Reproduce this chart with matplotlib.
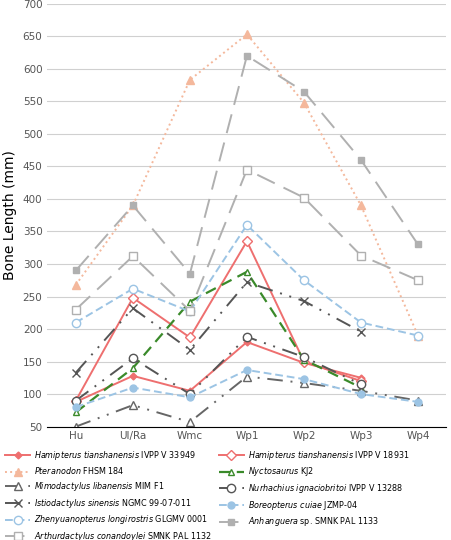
import matplotlib
matplotlib.use("Agg")
import matplotlib.pyplot as plt
import numpy as np

cats = ["Hu", "Ul/Ra", "Wmc", "Wp1", "Wp2", "Wp3", "Wp4"]
ham33949 = [88, 128, 105, 180, 148, 125, None]
ham18931 = [90, 248, 187, 335, 150, 120, None]
pteranodon = [268, 390, 583, 653, 548, 390, 190]
nyctosaurus = [72, 140, 242, 288, 153, 110, None]
mimodactylus = [50, 83, 57, 127, 117, 105, 90]
nurhachius = [90, 155, 100, 188, 157, 115, None]
istiodactylus = [133, 232, 168, 272, 243, 196, None]
boreopterus = [80, 110, 95, 137, 123, 100, 88]
zhenyuan = [210, 262, 227, 360, 275, 210, 190]
anhanguera = [290, 390, 285, 620, 565, 460, 330]
arthurdactylus = [230, 312, 228, 445, 402, 313, 275]

def arr(v):
    return np.array([np.nan if x is None else x for x in v], dtype=float)

fig = plt.figure(figsize=(4.51, 5.40), dpi=100)
ax = fig.add_axes([0.105, 0.21, 0.885, 0.783])
x = np.arange(len(cats))
red = "#ee6f6f"
specs = [
    (ham33949, dict(color=red, ls="-", marker="D", ms=3.5, mfc=red), "$\\it{Hamipterus\\ tianshanensis}$ IVPP V 33949"),
    (ham18931, dict(color=red, ls="-", marker="D", ms=5, mfc="white"), "$\\it{Hamipterus\\ tianshanensis}$ IVPP V 18931"),
    (pteranodon, dict(color="#f4b89c", ls=":", marker="^", ms=6, mfc="#f4b89c"), "$\\it{Pteranodon}$ FHSM 184"),
    (nyctosaurus, dict(color="#3a8a2a", ls=(0, (5, 3)), marker="^", ms=5, mfc="white", lw=1.6), "$\\it{Nyctosaurus}$ KJ2"),
    (mimodactylus, dict(color="#666666", ls=(0, (8, 4, 1, 4, 1, 4)), marker="^", ms=6, mfc="white"), "$\\it{Mimodactylus\\ libanensis}$ MIM F1"),
    (nurhachius, dict(color="#555555", ls=(0, (8, 4, 1, 4, 1, 4)), marker="o", ms=6, mfc="white"), "$\\it{Nurhachius\\ ignaciobritoi}$ IVPP V 13288"),
    (istiodactylus, dict(color="#555555", ls=(0, (8, 4, 1, 4, 1, 4)), marker="x", ms=6), "$\\it{Istiodactylus\\ sinensis}$ NGMC 99-07-011"),
    (boreopterus, dict(color="#9cc4e4", ls=(0, (4, 2)), marker="o", ms=5, mfc="#9cc4e4"), "$\\it{Boreopterus\\ cuiae}$ JZMP-04"),
    (zhenyuan, dict(color="#9cc4e4", ls=(0, (4, 2)), marker="o", ms=6, mfc="white"), "$\\it{Zhenyuanopterus\\ longirostris}$ GLGMV 0001"),
    (anhanguera, dict(color="#b0b0b0", ls=(0, (10, 5)), marker="s", ms=5, mfc="#b0b0b0"), "$\\it{Anhanguera}$ sp. SMNK PAL 1133"),
    (arthurdactylus, dict(color="#b0b0b0", ls=(0, (10, 5)), marker="s", ms=6, mfc="white"), "$\\it{Arthurdactylus\\ conandoylei}$ SMNK PAL 1132"),
]
handles = []
for vals, st, lab in specs:
    st.setdefault("lw", 1.4)
    h, = ax.plot(x, arr(vals), label=lab, **st)
    handles.append(h)

ax.set_ylim(50, 700)
ax.set_yticks(range(50, 701, 50))
ax.set_xlim(-0.5, 6.5)
ax.set_xticks(x)
ax.set_xticklabels(cats, fontsize=7.5)
ax.tick_params(axis="y", labelsize=7.5, length=0, colors="#555555")
ax.tick_params(axis="x", length=0, colors="#555555")
ax.grid(axis="y", color="#d0d0d0", lw=0.8)
ax.set_axisbelow(True)
for s in ["top", "right", "left"]:
    ax.spines[s].set_visible(False)
ax.spines["bottom"].set_color("black")
ax.set_ylabel("Bone Length (mm)", fontsize=10)
order = [0, 2, 4, 6, 8, 10, 1, 3, 5, 7, 9]
hs = [handles[i] for i in order]
ax.legend(hs, [h.get_label() for h in hs], loc="upper left", bbox_to_anchor=(-0.115, -0.045),
          ncol=2, frameon=False, fontsize=5.8, handlelength=3.2, handletextpad=0.5,
          columnspacing=0.8, labelspacing=0.45, borderaxespad=0)
fig.savefig("out.png", dpi=100)
